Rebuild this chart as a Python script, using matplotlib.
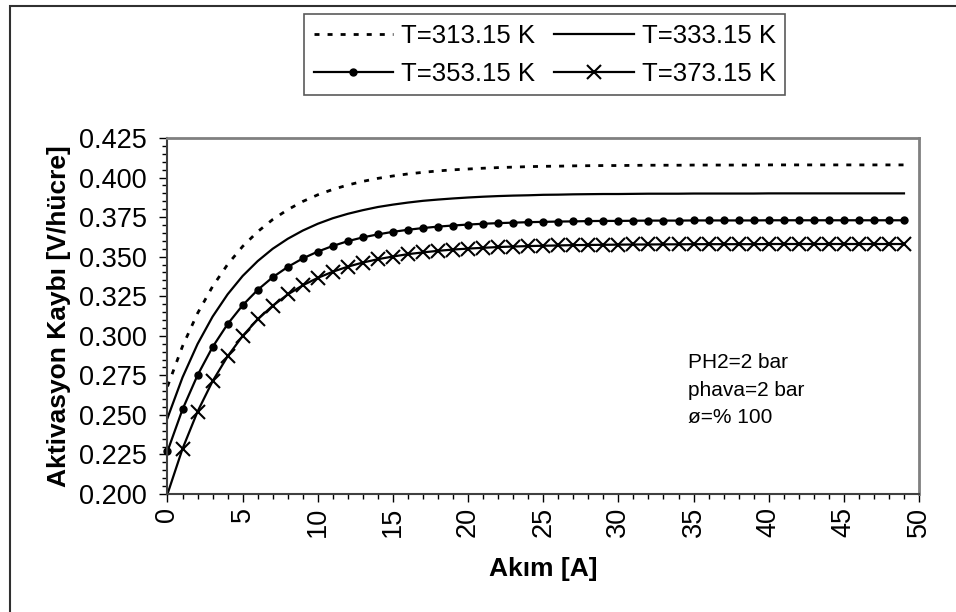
import matplotlib
matplotlib.use("Agg")
import matplotlib.pyplot as plt
from matplotlib.patches import Rectangle

plt.rcParams['font.family'] = ['Liberation Sans', 'DejaVu Sans']

#Data, current [A] vs activation loss [V/cell]
current_a = list(range(0, 50))

loss_313 = [0.2680, 0.2934, 0.3142, 0.3312, 0.3451, 0.3565, 0.3658, 0.3735, 0.3797, 0.3849,
            0.3891, 0.3925, 0.3953, 0.3976, 0.3995, 0.4010, 0.4023, 0.4033, 0.4042, 0.4049,
            0.4054, 0.4059, 0.4063, 0.4066, 0.4069, 0.4071, 0.4072, 0.4074, 0.4075, 0.4076,
            0.4076, 0.4077, 0.4078, 0.4078, 0.4078, 0.4079, 0.4079, 0.4079, 0.4079, 0.4079,
            0.4080, 0.4080, 0.4080, 0.4080, 0.4080, 0.4080, 0.4080, 0.4080, 0.4080, 0.4080]
loss_333 = [0.2480, 0.2737, 0.2948, 0.3121, 0.3262, 0.3378, 0.3472, 0.3550, 0.3613, 0.3665,
            0.3708, 0.3743, 0.3771, 0.3794, 0.3814, 0.3829, 0.3842, 0.3853, 0.3861, 0.3868,
            0.3874, 0.3879, 0.3883, 0.3886, 0.3888, 0.3891, 0.3892, 0.3894, 0.3895, 0.3896,
            0.3896, 0.3897, 0.3898, 0.3898, 0.3898, 0.3899, 0.3899, 0.3899, 0.3899, 0.3899,
            0.3900, 0.3900, 0.3900, 0.3900, 0.3900, 0.3900, 0.3900, 0.3900, 0.3900, 0.3900]
loss_353 = [0.2270, 0.2535, 0.2751, 0.2929, 0.3074, 0.3193, 0.3290, 0.3370, 0.3435, 0.3489,
            0.3532, 0.3568, 0.3598, 0.3622, 0.3641, 0.3657, 0.3670, 0.3681, 0.3690, 0.3697,
            0.3703, 0.3708, 0.3712, 0.3715, 0.3718, 0.3720, 0.3722, 0.3723, 0.3725, 0.3726,
            0.3726, 0.3727, 0.3728, 0.3728, 0.3728, 0.3729, 0.3729, 0.3729, 0.3729, 0.3729,
            0.3730, 0.3730, 0.3730, 0.3730, 0.3730, 0.3730, 0.3730, 0.3730, 0.3730, 0.3730]
loss_373 = [0.2000, 0.2286, 0.2521, 0.2713, 0.2870, 0.2999, 0.3104, 0.3190, 0.3261, 0.3319,
            0.3366, 0.3405, 0.3437, 0.3463, 0.3484, 0.3501, 0.3516, 0.3527, 0.3537, 0.3545,
            0.3551, 0.3556, 0.3561, 0.3564, 0.3567, 0.3569, 0.3571, 0.3573, 0.3574, 0.3575,
            0.3576, 0.3577, 0.3577, 0.3578, 0.3578, 0.3579, 0.3579, 0.3579, 0.3579, 0.3579,
            0.3580, 0.3580, 0.3580, 0.3580, 0.3580, 0.3580, 0.3580, 0.3580, 0.3580, 0.3580]

series_labels = ["T=313.15 K", "T=333.15 K", "T=353.15 K", "T=373.15 K"]
note_lines = ["PH2=2 bar", "phava=2 bar", "ø=% 100"]

#figure 956x612 px
fig = plt.figure(figsize=(9.56, 6.12), dpi=100)
ax = fig.add_axes([0.1752, 0.1928, 0.7861, 0.5817])

#outer chart border (cut off at right/bottom like the original)
fig.patches.append(Rectangle((10/956, -0.05), 1.2, 1 - 6/612 + 0.05, transform=fig.transFigure,
                             fill=False, edgecolor="#303030", lw=1.5, clip_on=False))

#curves
l313, = ax.plot(current_a, loss_313, color="black", lw=2.0, dashes=(1.8, 2.9), clip_on=False)
l333, = ax.plot(current_a, loss_333, color="black", lw=1.6, clip_on=False)
l353, = ax.plot(current_a, loss_353, color="black", lw=1.6, marker="o", markersize=5,
                clip_on=False)
l373, = ax.plot(current_a, loss_373, color="black", lw=1.6, marker="x", markersize=9.5,
                markeredgewidth=1.5, markevery=slice(1, None), clip_on=False)

#axes limits and ticks
ax.set_xlim(0, 50)
ax.set_ylim(0.200, 0.425)
ax.set_xticks(range(0, 51, 5))
ax.set_xticks(range(0, 51, 1), minor=True)
yt = [0.200 + 0.025*i for i in range(10)]
ax.set_yticks(yt)
ax.set_yticklabels(["%.3f" % v for v in yt])
ax.set_yticks([0.200 + 0.005*i for i in range(46)], minor=True)
ax.tick_params(axis="both", which="major", direction="out", length=6, width=1,
               labelsize=19.5, color="black")
ax.tick_params(axis="both", which="minor", direction="out", length=3.5, width=1, color="black")
ax.tick_params(axis="y", which="major", pad=9)
ax.tick_params(axis="x", which="major", pad=3, labelrotation=90)

#plot frame: gray top/right, dark axes
for side in ["top", "right"]:
    ax.spines[side].set_color("#808080")
    ax.spines[side].set_linewidth(2)
for side in ["left", "bottom"]:
    ax.spines[side].set_color("#404040")
    ax.spines[side].set_linewidth(1.5)

#axis labels
ax.set_xlabel("Akım [A]", fontsize=19, fontweight="bold")
ax.set_ylabel("Aktivasyon Kaybı [V/hücre]", fontsize=19, fontweight="bold")
ax.xaxis.set_label_coords(0.5, -0.177)
ax.yaxis.set_label_coords(-0.128, 0.5)

#condition note
for i, txt in enumerate(note_lines):
    ax.text(0.693, 0.354 - i*0.0775, txt, transform=ax.transAxes, fontsize=15,
            ha="left", va="baseline")

#legend - two columns, row 1: 313/333, row 2: 353/373
leg = fig.legend([l313, l353, l333, l373],
                 [series_labels[0], series_labels[2], series_labels[1], series_labels[3]],
                 ncol=2, loc="upper left", bbox_to_anchor=(304/956, 1 - 14/612),
                 fontsize=18.5, frameon=True, fancybox=False, borderpad=0.37,
                 labelspacing=0.55, handlelength=3.1, handletextpad=0.3,
                 columnspacing=0.75, borderaxespad=0)
leg.get_frame().set_edgecolor("#303030")
leg.get_frame().set_linewidth(1.2)

plt.savefig("out.png", dpi=100)
